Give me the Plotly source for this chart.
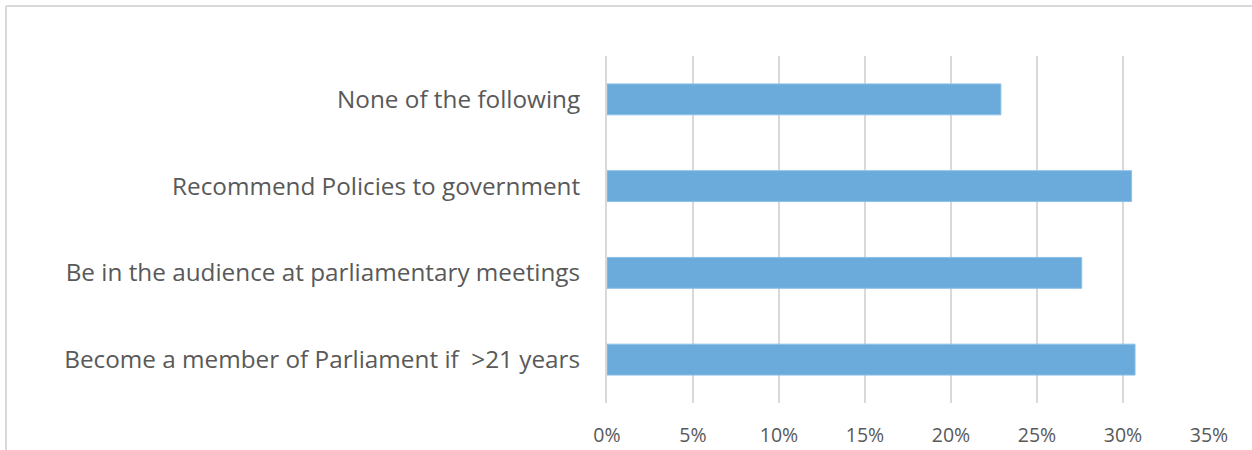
import plotly.graph_objects as go

# Survey responses, listed bottom to top as drawn on the category axis
categories = [
    "Become a member of Parliament if  >21 years",
    "Be in the audience at parliamentary meetings",
    "Recommend Policies to government",
    "None of the following",
]
shares = [0.307, 0.276, 0.305, 0.229]

tick_values = [0, 0.05, 0.10, 0.15, 0.20, 0.25, 0.30, 0.35]
tick_labels = ["0%", "5%", "10%", "15%", "20%", "25%", "30%", "35%"]

W, H = 1252, 450
L, R, T, B = 607, 43, 56, 47
grid_color = "#d9d9d9"
text_color = "#595959"
font_family = "'Open Sans', sans-serif"

fig = go.Figure(
    go.Bar(
        x=shares,
        y=categories,
        orientation="h",
        marker=dict(color="#6aabdc", line=dict(color="#8cc0e6", width=1)),
        hoverinfo="x+y",
    )
)

# frame around the chart area (top and left edges visible)
pw = W - L - R
ph = H - T - B
def px_x(p):
    return (p - L) / pw
def px_y(p):
    return (H - B - p) / ph

fig.update_layout(
    width=W,
    height=H,
    margin=dict(l=L, r=R, t=T, b=B, pad=0),
    paper_bgcolor="white",
    plot_bgcolor="white",
    bargap=0.644,
    showlegend=False,
    font=dict(family=font_family, color=text_color, size=20),
    shapes=[
        dict(type="line", xref="paper", yref="paper",
             x0=px_x(6), x1=px_x(1300), y0=px_y(6), y1=px_y(6),
             line=dict(color=grid_color, width=2)),
        dict(type="line", xref="paper", yref="paper",
             x0=px_x(6), x1=px_x(6), y0=px_y(6), y1=px_y(500),
             line=dict(color=grid_color, width=2)),
    ],
)

fig.update_xaxes(
    range=[0, 0.35],
    tickvals=tick_values,
    ticktext=tick_labels,
    showgrid=True,
    gridcolor=grid_color,
    gridwidth=2,
    zeroline=False,
    showline=False,
    ticks="",
    ticklabelstandoff=18,
    tickfont=dict(size=19.5, color=text_color, family=font_family),
    automargin=False,
    fixedrange=True,
)
fig.update_yaxes(
    categoryorder="array",
    categoryarray=categories,
    showgrid=False,
    zeroline=False,
    showline=True,
    linecolor=grid_color,
    linewidth=2,
    ticks="",
    ticklabelstandoff=20,
    tickfont=dict(size=24.3, color=text_color, family=font_family),
    automargin=False,
    fixedrange=True,
)

fig.write_html("out.html")
